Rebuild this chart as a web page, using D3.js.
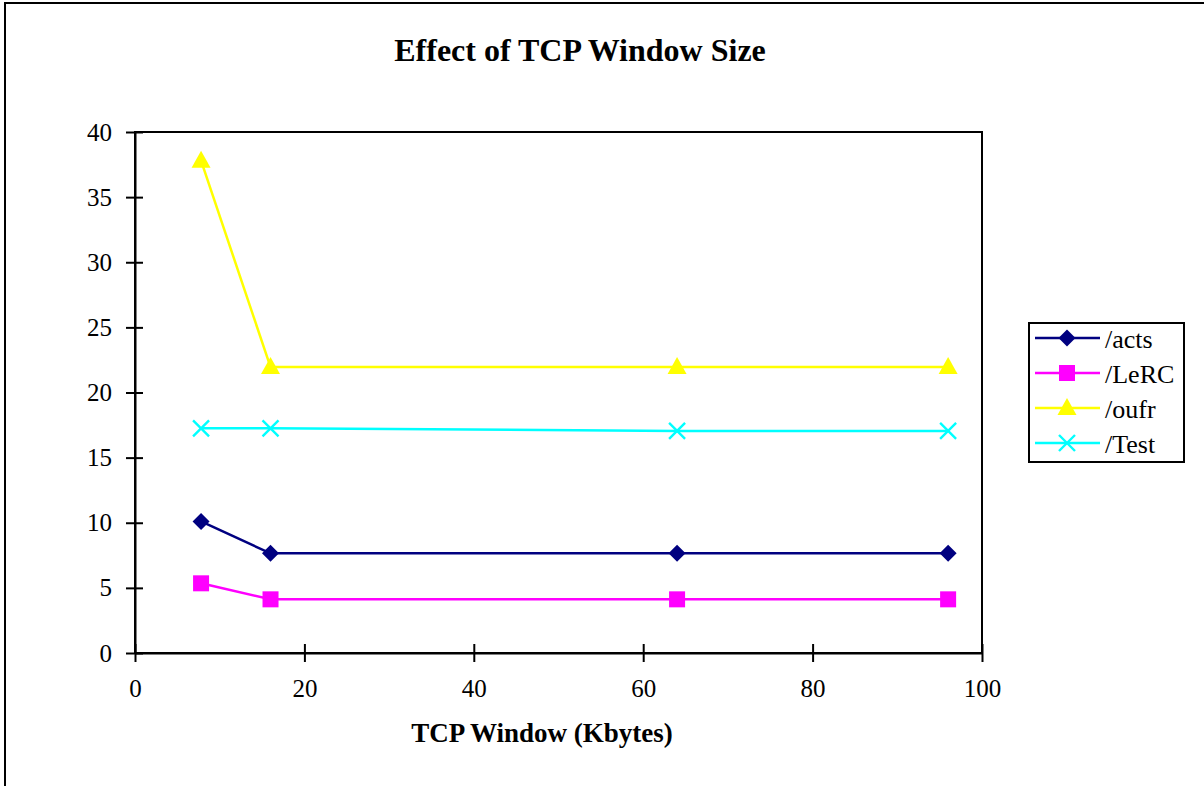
<!DOCTYPE html>
<html lang="en">
<head>
    <meta charset="UTF-8">
    <title>Effect of TCP Window Size</title>
    <style>
        body {
            margin: 0;
            background: #fff;
            overflow: hidden;
        }
        svg {
            display: block;
            font-family: "Liberation Serif", "Times New Roman", serif;
        }
        .tick text {
            font-size: 25px;
            fill: #000;
        }
    </style>
</head>
<body>
<svg width="1204" height="786"></svg>

<script src="https://d3js.org/d3.v7.min.js"></script>
<script>
    // window sizes (Kbytes)
    const windowSizes = [7.8, 16, 64, 96];

    const seriesNames = ["/acts", "/LeRC", "/oufr", "/Test"];
    const actsValues = [10.1, 7.65, 7.65, 7.65];
    const lercValues = [5.35, 4.12, 4.12, 4.12];
    const oufrValues = [37.8, 21.95, 21.95, 21.95];
    const testValues = [17.25, 17.25, 17.05, 17.05];

    const xTicks = [0, 20, 40, 60, 80, 100];
    const yTicks = [0, 5, 10, 15, 20, 25, 30, 35, 40];

    const colors = ["#000080", "#ff00ff", "#ffff00", "#00ffff"];
    const shapes = ["diamond", "square", "triangle", "cross"];

    const series = [actsValues, lercValues, oufrValues, testValues].map((vals, i) => ({
        name: seriesNames[i],
        color: colors[i],
        shape: shapes[i],
        points: vals.map((v, j) => ({x: windowSizes[j], y: v}))
    }));

    const svg = d3.select("svg");

    // cadre extérieur
    svg.append("rect")
        .attr("x", 5)
        .attr("y", 3)
        .attr("width", 1220)
        .attr("height", 800)
        .attr("fill", "#fff")
        .attr("stroke", "#000")
        .attr("stroke-width", 2);

    const plot = {left: 135, right: 982, top: 132, bottom: 653};

    const x = d3.scaleLinear().domain([0, 100]).range([plot.left, plot.right]);
    const y = d3.scaleLinear().domain([0, 40]).range([plot.bottom, plot.top]);

    // bordure de la zone de tracé
    svg.append("rect")
        .attr("x", plot.left)
        .attr("y", plot.top)
        .attr("width", plot.right - plot.left)
        .attr("height", plot.bottom - plot.top)
        .attr("fill", "none")
        .attr("stroke", "#000")
        .attr("stroke-width", 2);

    const xAxis = svg.append("g")
        .attr("transform", `translate(0,${plot.bottom})`)
        .call(d3.axisBottom(x).tickValues(xTicks).tickSizeInner(9).tickSizeOuter(0).tickPadding(17));
    xAxis.select(".domain").attr("stroke-width", 2);
    xAxis.selectAll(".tick line")
        .attr("y1", -9)
        .attr("stroke-width", 2);

    const yAxis = svg.append("g")
        .attr("transform", `translate(${plot.left},0)`)
        .call(d3.axisLeft(y).tickValues(yTicks).tickSizeInner(9).tickSizeOuter(0).tickPadding(14));
    yAxis.select(".domain").attr("stroke-width", 2);
    yAxis.selectAll(".tick line")
        .attr("x1", 8)
        .attr("stroke-width", 2);

    // police serif partout
    xAxis.attr("font-family", null).attr("font-size", null);
    yAxis.attr("font-family", null).attr("font-size", null);

    function marker(g, shape, color) {
        if (shape === "diamond") {
            g.append("path").attr("d", "M0,-8.5L8.5,0L0,8.5L-8.5,0Z").attr("fill", color);
        } else if (shape === "square") {
            g.append("rect").attr("x", -8).attr("y", -8).attr("width", 16).attr("height", 16).attr("fill", color);
        } else if (shape === "triangle") {
            g.append("path").attr("d", "M0,-10L9.5,7L-9.5,7Z").attr("fill", color);
        } else {
            g.append("path").attr("d", "M-8,-8L8,8M-8,8L8,-8")
                .attr("stroke", color).attr("stroke-width", 2.4).attr("fill", "none");
        }
    }

    const line = d3.line().x(d => x(d.x)).y(d => y(d.y));

    series.forEach(s => {
        svg.append("path")
            .datum(s.points)
            .attr("d", line)
            .attr("fill", "none")
            .attr("stroke", s.color)
            .attr("stroke-width", 2.5);

        svg.append("g")
            .selectAll("g")
            .data(s.points)
            .join("g")
            .attr("transform", d => `translate(${x(d.x)},${y(d.y)})`)
            .each(function () { marker(d3.select(this), s.shape, s.color); });
    });

    // titre
    svg.append("text")
        .attr("x", 580)
        .attr("y", 61)
        .attr("text-anchor", "middle")
        .attr("font-size", 32)
        .attr("font-weight", "bold")
        .text("Effect of TCP Window Size");

    svg.append("text")
        .attr("x", 542)
        .attr("y", 742)
        .attr("text-anchor", "middle")
        .attr("font-size", 27)
        .attr("font-weight", "bold")
        .text("TCP Window (Kbytes)");

    // légende
    const legend = svg.append("g").attr("transform", "translate(1029,323)");
    legend.append("rect")
        .attr("width", 155)
        .attr("height", 139)
        .attr("fill", "#fff")
        .attr("stroke", "#000")
        .attr("stroke-width", 2);

    series.forEach((s, i) => {
        const row = legend.append("g").attr("transform", `translate(0,${15 + i * 35})`);
        row.append("line")
            .attr("x1", 6).attr("x2", 71)
            .attr("stroke", s.color)
            .attr("stroke-width", 2.5);
        const m = row.append("g").attr("transform", "translate(38,0)");
        marker(m, s.shape, s.color);
        row.append("text")
            .attr("x", 76)
            .attr("y", 10)
            .attr("font-size", 26)
            .text(s.name);
    });
</script>
</body>
</html>
